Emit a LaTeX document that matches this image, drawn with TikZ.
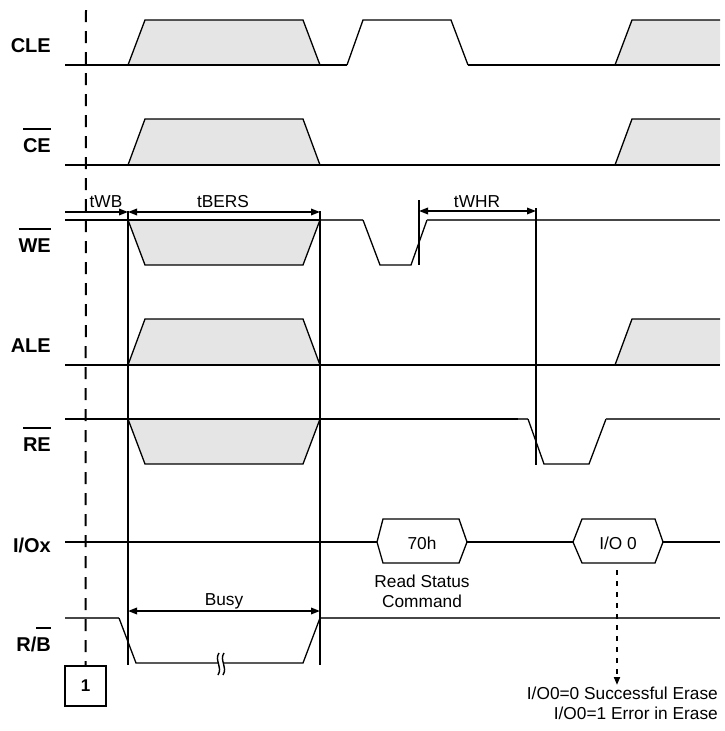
\documentclass[tikz,border=0pt]{standalone}
\usepackage{fontspec}
\setmainfont{Liberation Sans}
\usetikzlibrary{arrows.meta}
\definecolor{fillg}{RGB}{229,229,229}
\definecolor{thinc}{RGB}{70,70,70}
\newlength\obarlen
\newcommand\obar[1]{\settowidth{\obarlen}{#1}\rlap{\rule[1.12em]{\obarlen}{0.08em}}#1}
\begin{document}
\begin{tikzpicture}[x=1pt,y=-1pt,
  sig/.style={line width=2pt},
  thinsig/.style={line width=1.3pt, draw=thinc},
  edge/.style={line width=1.3pt, line join=miter},
  lbl/.style={font=\fontsize{20}{24}\selectfont\bfseries, anchor=base east, inner sep=0pt},
  txt/.style={font=\fontsize{17.3}{20}\selectfont, inner sep=0pt, anchor=base},
  tipa/.tip={Triangle[length=9pt,width=6.5pt]},
  dim/.style={line width=1.8pt, tipa-tipa},
  vert/.style={line width=2pt}]
\useasboundingbox (0,0) rectangle (724,731);

% ---------- labels ----------
\node[lbl] (lcle) at (51,52) {CLE};
\node[lbl] (lce)  at (51,152) {\obar{CE}};
\node[lbl] (lwe)  at (51,252) {\obar{WE}};
\node[lbl] (lale) at (51,352) {ALE};
\node[lbl] (lre)  at (51,451) {\obar{RE}};
\node[lbl] (lio)  at (51,552) {I/Ox};
\node[lbl] (lrb)  at (51,651) {R/\obar{B}};

% ---------- CLE ----------
\fill[fillg] (128,65) -- (145,20) -- (303,20) -- (320,65) -- cycle;
\draw[edge] (128,65) -- (145,20) -- (303,20) -- (320,65);
\fill[fillg] (615,65) -- (632,20) -- (720,20) -- (720,65) -- cycle;
\draw[edge] (615,65) -- (632,20) -- (720,20);
\draw[sig] (65,65) -- (347,65);
\draw[edge] (347,65) -- (363,20) -- (451,20) -- (468,65);
\draw[sig] (468,65) -- (720,65);

% ---------- CE ----------
\fill[fillg] (128,165) -- (145,119) -- (303,119) -- (320,165) -- cycle;
\draw[edge] (128,165) -- (145,119) -- (303,119) -- (320,165);
\fill[fillg] (615,165) -- (632,119) -- (720,119) -- (720,165) -- cycle;
\draw[edge] (615,165) -- (632,119) -- (720,119);
\draw[sig] (65,165) -- (720,165);

% ---------- WE ----------
\fill[fillg] (128,220) -- (145,265) -- (303,265) -- (320,220) -- cycle;
\draw[edge] (128,220) -- (145,265) -- (303,265) -- (320,220);
\draw[sig] (65,220) -- (320,220);
\draw[thinsig] (320,220) -- (363,220);
\draw[edge] (363,220) -- (380,265) -- (411,265) -- (427,220);
\draw[thinsig] (427,220) -- (720,220);

% ---------- ALE ----------
\fill[fillg] (128,365) -- (145,319) -- (303,319) -- (320,365) -- cycle;
\draw[edge] (128,365) -- (145,319) -- (303,319) -- (320,365);
\fill[fillg] (615,365) -- (632,319) -- (720,319) -- (720,365) -- cycle;
\draw[edge] (615,365) -- (632,319) -- (720,319);
\draw[sig] (65,365) -- (720,365);

% ---------- RE ----------
\fill[fillg] (128,419) -- (145,464) -- (303,464) -- (320,419) -- cycle;
\draw[edge] (128,419) -- (145,464) -- (303,464) -- (320,419);
\draw[sig] (65,419) -- (518,419);
\draw[thinsig] (518,419) -- (528,419);
\draw[edge] (528,419) -- (544,464) -- (589,464) -- (606,419);
\draw[thinsig] (606,419) -- (720,419);

% ---------- I/Ox ----------
\draw[sig] (65,542) -- (377,542);
\draw[edge] (377,542) -- (383,519) -- (459,519) -- (467,542) -- (459,563) -- (383,563) -- cycle;
\node[txt] (h70) at (422,549) {70h};
\draw[sig] (467,542) -- (573,542);
\draw[edge] (573,542) -- (582,519) -- (655,519) -- (663,542) -- (655,563) -- (582,563) -- cycle;
\node[txt] (hio) at (618,549) {I/O 0};
\draw[sig] (663,542) -- (720,542);
\node[txt] (rs1) at (422,587) {Read Status};
\node[txt] (rs2) at (422,607) {Command};

% ---------- R/B ----------
\draw[thinsig] (65,618) -- (119,618);
\draw[edge] (119,618) -- (136,663) -- (303,663) -- (320,618);
\draw[thinsig] (320,618) -- (720,618);
\fill[white] (218,655) rectangle (224,672);
\draw[line width=1.4pt] (219,653) .. controls (214,660) and (223,667) .. (218,675);
\draw[line width=1.4pt] (224,653) .. controls (219,660) and (228,667) .. (223,675);

% ---------- timing markers ----------
\draw[vert] (128,211) -- (128,665);
\draw[vert] (320,211) -- (320,665);
\draw[vert] (419,200) -- (419,265);
\draw[vert] (536,208) -- (536,465);

\draw[line width=1.8pt, -tipa] (65,212) -- (128,212);
\node[txt] (twb) at (106,207) {tWB};
\draw[dim] (128,212) -- (320,212);
\node[txt] (tbers) at (223,207) {tBERS};
\draw[dim] (419,211) -- (536,211);
\node[txt] (twhr) at (477,207) {tWHR};
\draw[dim] (128,611) -- (320,611);
\node[txt] (busy) at (224,605) {Busy};

% ---------- dashed reference line and box ----------
\node[draw, line width=1.8pt, minimum width=41pt, minimum height=40pt, inner sep=0pt,
      font=\fontsize{17}{20}\selectfont\bfseries] (box1) at (85.5,686) {1};
\coordinate (dtop) at (86,10);
\draw[line width=2pt, dash pattern=on 12pt off 9pt] (dtop) -- (box1.north);

% ---------- result ----------
\node[txt, anchor=base east] (res1) at (718,699) {I/O0=0 Successful Erase};
\node[txt, anchor=base east] (res2) at (718,719) {I/O0=1 Error in Erase};
\coordinate (iobot) at (617,570);
\coordinate (arrend) at (617,685);
\draw[line width=1.8pt, dash pattern=on 5pt off 6pt, -{Triangle[length=8pt,width=6pt]}] (iobot) -- (arrend);
\end{tikzpicture}
\end{document}
